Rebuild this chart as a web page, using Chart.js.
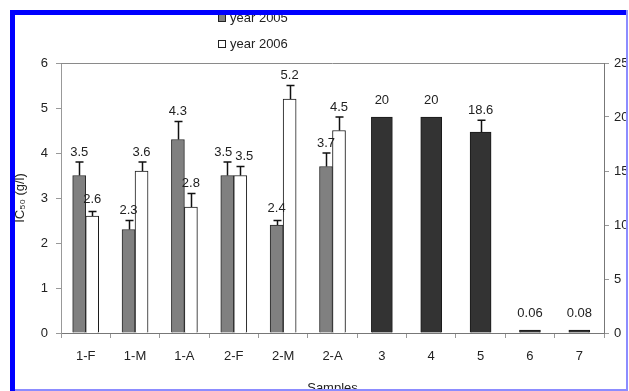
<!DOCTYPE html>
<html>
<head>
<meta charset="utf-8">
<script src="https://cdn.jsdelivr.net/npm/chart.js@4.4.1/dist/chart.umd.min.js"></script>
<style>
  html, body { margin: 0; padding: 0; background: #fff; }
  #wrap { position: relative; width: 629px; height: 391px; overflow: hidden;
          font-family: "Liberation Sans", Arial, sans-serif; }
  #chart { position: absolute; left: 0; top: 0; }
  .box { position: absolute; }
  .legtxt { position: absolute; left: 230px; font-size: 13px; line-height: 15px; color: #222; white-space: nowrap; }
  .mark { position: absolute; left: 218px; width: 8px; height: 8px; box-sizing: border-box; border: 1px solid #222; }
</style>
</head>
<body>
<div id="wrap">
  <canvas id="chart" width="629" height="391"></canvas>

  <!-- legend -->
  <div class="mark" style="top:14px;background:#808080;"></div>
  <div class="legtxt" style="top:10px;">year 2005</div>
  <div class="mark" style="top:40px;background:#fff;"></div>
  <div class="legtxt" style="top:36px;">year 2006</div>

  <!-- frame -->
  <div class="box" style="left:0;top:0;width:629px;height:10px;background:#fff;"></div>
  <div class="box" style="left:0;top:0;width:10px;height:391px;background:#fff;"></div>
  <div class="box" style="left:10px;top:10px;width:618px;height:5px;background:#0000ff;"></div>
  <div class="box" style="left:10px;top:10px;width:5px;height:381px;background:#0000ff;"></div>
  <div class="box" style="left:626px;top:10px;width:2px;height:381px;background:#8c8cff;"></div>
  <div class="box" style="left:628px;top:0;width:1px;height:391px;background:#fff;"></div>
  <div class="box" style="left:15px;top:389px;width:611px;height:2px;background:#8c8cff;"></div>
</div>

<script>
// Sample categories along the x axis
const categories = ['1-F', '1-M', '1-A', '2-F', '2-M', '2-A', '3', '4', '5', '6', '7'];

// IC50 (g/l), left axis
const year2005 = [3.5, 2.3, 4.3, 3.5, 2.4, 3.7, null, null, null, null, null];
const year2006 = [2.6, 3.6, 2.8, 3.5, 5.2, 4.5, null, null, null, null, null];
const err2005  = [0.3, 0.2, 0.4, 0.3, 0.1, 0.3, null, null, null, null, null];
const err2006  = [0.1, 0.2, 0.3, 0.2, 0.3, 0.3, null, null, null, null, null];

// IC50 (g/l) for samples 3-7, right axis
const otherSamples = [null, null, null, null, null, null, 20, 20, 18.6, 0.06, 0.08];
const errOther     = [null, null, null, null, null, null, 0, 0, 1.1, 0, 0];

// Axis ranges
const leftTicks  = { min: 0, max: 6, step: 1 };
const rightTicks = { min: 0, max: 25, step: 5 };

const FONT = '"Liberation Sans", Arial, sans-serif';
Chart.defaults.font.family = FONT;
Chart.defaults.font.size = 13;
Chart.defaults.color = '#222';

// Grey line closing the top of the plot box
const plotTop = {
  id: 'plotTop',
  afterDraw(chart) {
    const { ctx, chartArea: a } = chart;
    ctx.save();
    ctx.strokeStyle = '#8a8a8a';
    ctx.lineWidth = 1;
    ctx.beginPath();
    ctx.moveTo(a.left, Math.round(a.top) + 0.5);
    ctx.lineTo(a.right, Math.round(a.top) + 0.5);
    ctx.stroke();
    ctx.restore();
  }
};

// Upper error bars with caps
const errorBars = {
  id: 'errorBars',
  afterDatasetsDraw(chart) {
    const ctx = chart.ctx;
    ctx.save();
    ctx.strokeStyle = '#111';
    ctx.lineWidth = 1.5;
    chart.data.datasets.forEach((ds, di) => {
      const meta = chart.getDatasetMeta(di);
      const scale = chart.scales[ds.yAxisID];
      meta.data.forEach((bar, i) => {
        const v = ds.data[i], e = ds.errors[i];
        if (v == null || !e) return;
        const yTop = scale.getPixelForValue(v + e);
        const x = Math.round(bar.x) + 0.5;
        ctx.beginPath();
        ctx.moveTo(x, bar.y);
        ctx.lineTo(x, yTop);
        ctx.moveTo(x - 4, yTop);
        ctx.lineTo(x + 4, yTop);
        ctx.stroke();
      });
    });
    ctx.restore();
  }
};

// Value labels above each bar, clearing the error bar
const valueLabels = {
  id: 'valueLabels',
  afterDatasetsDraw(chart) {
    const ctx = chart.ctx;
    ctx.save();
    ctx.font = '13px ' + FONT;
    ctx.fillStyle = '#222';
    ctx.textAlign = 'center';
    ctx.textBaseline = 'middle';
    const perCat = categories.map(() => []);
    chart.data.datasets.forEach((ds, di) => {
      const meta = chart.getDatasetMeta(di);
      const scale = chart.scales[ds.yAxisID];
      meta.data.forEach((bar, i) => {
        const v = ds.data[i];
        if (v == null) return;
        const e = ds.errors[i] || 0;
        const errTop = scale.getPixelForValue(v + e);
        const y = Math.min(bar.y - 17, errTop - 10);
        const text = String(v);
        perCat[i].push({ x: bar.x, y, text, w: ctx.measureText(text).width });
      });
    });
    perCat.forEach(list => {
      if (list.length === 2) {
        const [a, b] = list;
        const need = (a.w + b.w) / 2 + 3;
        const gap = b.x - a.x;
        if (Math.abs(a.y - b.y) < 12 && gap < need) {
          const shift = (need - gap) / 2;
          a.x -= shift; b.x += shift;
        }
      }
      list.forEach(l => ctx.fillText(l.text, l.x, l.y));
    });
    ctx.restore();
  }
};

new Chart(document.getElementById('chart'), {
  type: 'bar',
  data: {
    labels: categories,
    datasets: [
      { label: 'year 2005', data: year2005, errors: err2005, yAxisID: 'y',
        backgroundColor: '#808080', borderColor: '#2a2a2a', borderWidth: 1,
        barThickness: 13, skipNull: true },
      { label: 'year 2006', data: year2006, errors: err2006, yAxisID: 'y',
        backgroundColor: '#ffffff', borderColor: '#1a1a1a', borderWidth: 1,
        barThickness: 13, skipNull: true },
      { label: 'samples 3-7', data: otherSamples, errors: errOther, yAxisID: 'y2',
        backgroundColor: '#333333', borderColor: '#1a1a1a', borderWidth: 1,
        barThickness: 21, minBarLength: 3, skipNull: true }
    ]
  },
  options: {
    responsive: false,
    animation: false,
    layout: { padding: { left: 13, top: 63, right: 0, bottom: 0 } },
    plugins: { legend: { display: false }, tooltip: { enabled: false } },
    scales: {
      x: {
        offset: true,
        grid: { display: true, offset: true, drawOnChartArea: false, tickLength: 5, color: '#999' },
        border: { color: '#777' },
        ticks: { padding: 11, color: '#222' },
        title: { display: true, text: 'Samples', padding: 0, color: '#222', font: { size: 13, lineHeight: 0.45 } },
        afterFit(s) { s.height = 58; }
      },
      y: {
        position: 'left',
        min: leftTicks.min, max: leftTicks.max,
        ticks: { stepSize: leftTicks.step, padding: 8, color: '#222' },
        grid: { drawOnChartArea: false, tickLength: 5, color: '#999' },
        border: { color: '#999' },
        title: { display: true, text: 'IC₅₀ (g/l)', padding: 0, color: '#222', font: { size: 13 } },
        afterFit(s) { s.width = 48; }
      },
      y2: {
        position: 'right',
        min: rightTicks.min, max: rightTicks.max,
        ticks: { stepSize: rightTicks.step, padding: 5, color: '#222' },
        grid: { drawOnChartArea: false, tickLength: 5, color: '#999' },
        border: { color: '#777' },
        afterFit(s) { s.width = 25; }
      }
    }
  },
  plugins: [plotTop, errorBars, valueLabels]
});
</script>
</body>
</html>
